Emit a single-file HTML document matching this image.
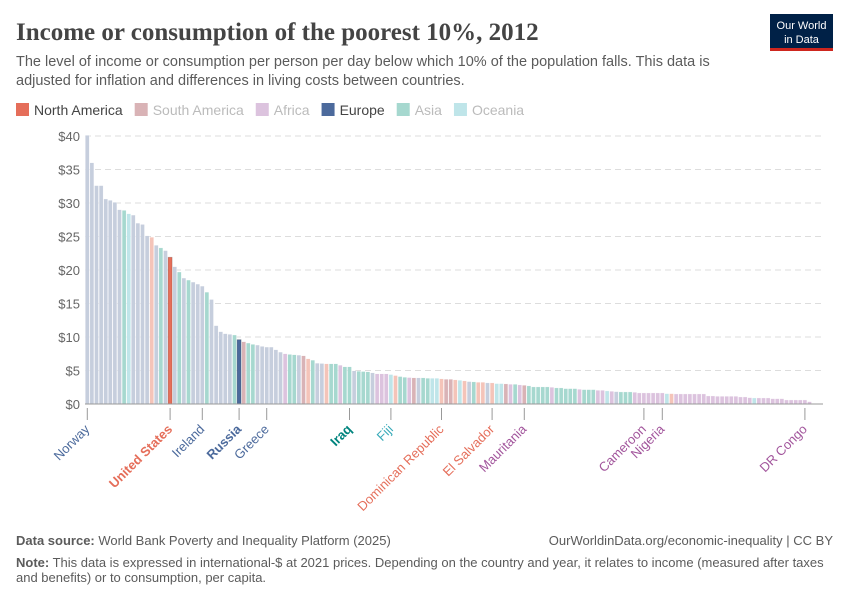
<!DOCTYPE html>
<html><head><meta charset="utf-8"><style>
body{margin:0;width:850px;height:600px;background:#fff;font-family:"Liberation Sans",sans-serif;overflow:hidden}
</style></head><body>
<svg id="chart" width="850" height="600" xmlns="http://www.w3.org/2000/svg" font-family="Liberation Sans, sans-serif">
<text x="16" y="40" style="font-family:'Liberation Serif',serif;font-weight:bold" font-size="25" fill="#444">Income or consumption of the poorest 10%, 2012</text>
<text x="16" y="66" font-size="14.5" fill="#5b5b5b">The level of income or consumption per person per day below which 10% of the population falls. This data is</text>
<text x="16" y="85" font-size="14.5" fill="#5b5b5b">adjusted for inflation and differences in living costs between countries.</text>
<g><rect x="770" y="14" width="63" height="36" fill="#002147"/><rect x="770" y="48" width="63" height="3" fill="#ce261e"/>
<text x="801.5" y="29" font-size="11" fill="#fff" text-anchor="middle">Our World</text><text x="801.5" y="43" font-size="11" fill="#fff" text-anchor="middle">in Data</text></g>
<g id="legend"></g>
<g id="grid"></g><g id="bars"></g><g id="labels"></g>
<text x="16" y="545" font-size="13" fill="#5b5b5b"><tspan font-weight="bold">Data source:</tspan> World Bank Poverty and Inequality Platform (2025)</text>
<text x="833" y="545" font-size="13" fill="#5b5b5b" text-anchor="end">OurWorldinData.org/economic-inequality | CC BY</text>
<text x="16" y="567" font-size="13" fill="#5b5b5b"><tspan font-weight="bold">Note:</tspan> This data is expressed in international-$ at 2021 prices. Depending on the country and year, it relates to income (measured after taxes</text>
<text x="16" y="582" font-size="13" fill="#5b5b5b">and benefits) or to consumption, per capita.</text>
</svg>
<script>
const values=[40.1,36.0,32.6,32.6,30.6,30.4,30.1,29.0,28.9,28.4,28.2,27.0,26.8,25.1,24.9,23.7,23.3,22.9,21.9,20.5,19.7,18.8,18.5,18.2,17.9,17.6,16.7,15.6,11.7,10.8,10.5,10.4,10.3,9.6,9.3,9.1,8.9,8.8,8.6,8.5,8.5,8.1,
7.75,7.5,7.4,7.35,7.3,7.2,6.75,6.55,6.1,6.05,6.0,6.0,6.0,5.8,5.55,5.55,4.95,4.9,4.85,4.8,4.65,4.5,4.5,4.5,4.4,4.25,4.1,4.0,3.95,3.9,3.9,3.9,3.85,3.85,3.85,3.75,3.7,3.7,3.6,3.55,3.45,3.35,3.3,3.25,3.25,3.15,3.15,3.05,3.05,3.0,2.95,2.95,2.85,2.8,2.7,2.55,2.55,2.55,2.55,
2.5,2.4,2.4,2.3,2.3,2.3,2.2,2.15,2.15,2.15,2.05,2.05,1.95,1.9,1.85,1.8,1.8,1.8,1.75,1.65,1.65,1.65,1.65,1.65,1.65,1.55,1.55,1.5,1.5,1.5,1.5,1.5,1.5,1.5,1.2,1.2,1.15,1.15,1.15,1.15,1.15,1.05,1.05,0.95,0.9,0.9,0.9,0.9,0.8,0.8,0.8,0.6,0.6,0.6,0.6,0.6,0.35];
const regions="EEEEEEEEAOEEEENEAENEAEAEEEAEEEEEAESAAEEEEE"+"EFAAESNAEENAAFAAEAAAEFFFONAAFSEAAOONSSNONEANNENOOSFAFSAAAAA"+"FAAAAAFAAAFFOFEAAAFFFFFFFONFFFFFFFFFFFFFFFFFOFFFFFFFFFFFFN";
const highlight={18:"#e56e5a",33:"#4c6a9c"};
const labelIdx=[0,18,25,33,39,57,66,77,88,95,121,125,156];
const labelNames=["Norway","United States","Ireland","Russia","Greece","Iraq","Fiji","Dominican Republic","El Salvador","Mauritania","Cameroon","Nigeria","DR Congo"];
const labelRegions=["E","N","E","E","E","A","O","N","N","F","F","F","F"];
const yTicks=[0,5,10,15,20,25,30,35,40];
const legendNames=["North America","South America","Africa","Europe","Asia","Oceania"];
const legendCodes=["N","S","F","E","A","O"];
const fillC={E:"#c6cedd",N:"#f4c4b9",S:"#d9b3b6",F:"#dcc3de",A:"#a6d8cf",O:"#bfe5e9"};
const legC={N:"#e56e5a",S:"#d9b3b6",F:"#dcc3de",E:"#4c6a9c",A:"#a6d8cf",O:"#bfe5e9"};
const labC={E:"#4c6a9c",N:"#e56e5a",S:"#9a5f5f",F:"#a2559c",A:"#00847e",O:"#38aab9"};
const NS="http://www.w3.org/2000/svg";
const x0=85,x1=823,bw=4.6,y0=404,pxPer=6.7;
const X=i=>x0+i*bw, Y=v=>y0-v*pxPer;
function mk(t,a,p){const e=document.createElementNS(NS,t);for(const k in a)e.setAttribute(k,a[k]);p.appendChild(e);return e;}
const grid=document.getElementById('grid');
yTicks.forEach(v=>{
 if(v>0){const l=mk('line',{x1:x0,x2:x1,y1:Y(v),y2:Y(v),stroke:"#ddd","stroke-dasharray":"6,4"},grid);
 
 }
 const t=mk('text',{x:80,y:Y(v)+5,"font-size":13,fill:"#666","text-anchor":"end"},grid);t.textContent="$"+v;
 
 
});
const bars=document.getElementById('bars');
values.forEach((v,i)=>{const r=regions[i]||"F";
 const b=mk('rect',{x:X(i)+0.3,y:Y(v),width:bw-0.6,height:v*pxPer,fill:highlight[i]||fillC[r],stroke:highlight[i]?"#00000033":"#fff","stroke-width":highlight[i]?0.8:0.3},bars);
 
 
});
const ax=mk('line',{x1:x0,x2:x1,y1:y0,y2:y0,stroke:"#999"},bars);


const labs=document.getElementById('labels');
labelIdx.forEach((i,k)=>{const cx=X(i)+bw/2,r=labelRegions[k];
 const tk=mk('line',{x1:cx,x2:cx,y1:y0+4,y2:y0+16,stroke:"#999"},labs);
 
 
 const bold=(i===18||i===33||i===57);
 const t=mk('text',{x:cx+3,y:y0+26,"font-size":13,fill:labC[r],"text-anchor":"end","font-weight":bold?"bold":"normal",transform:`rotate(-45 ${cx+3} ${y0+26})`},labs);
 t.textContent=labelNames[k];
 
 
});
const lg=document.getElementById('legend');let lx=16;
legendNames.forEach((n,k)=>{
 const s=mk('rect',{x:lx,y:103,width:13,height:13,fill:legC[legendCodes[k]]},lg);
 
 
 const t=mk('text',{x:lx+18,y:115,"font-size":14,fill:k===0||k===3?"#444":"#bbb"},lg);t.textContent=n;
 
 
 lx+=18+t.getComputedTextLength()+12;
});
</script>
</body></html>
